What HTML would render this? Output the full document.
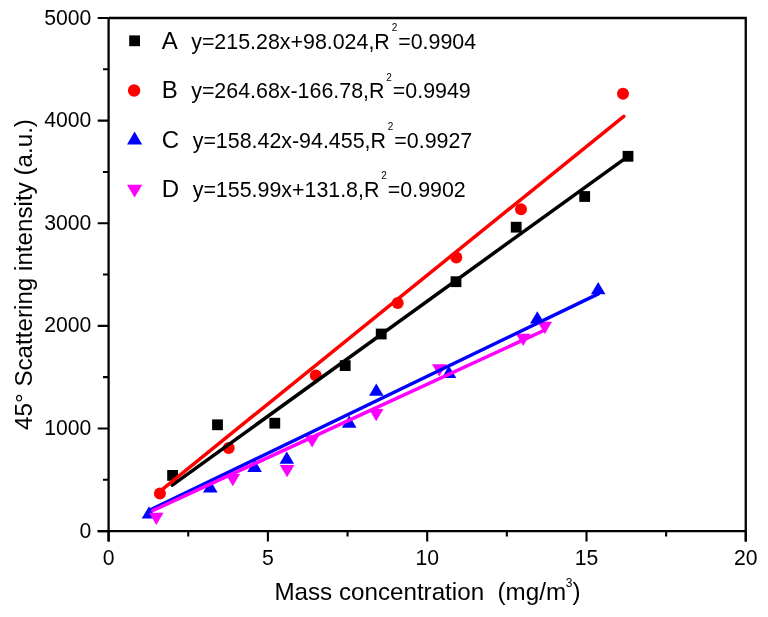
<!DOCTYPE html><html><head><meta charset="utf-8"><style>html,body{margin:0;padding:0;background:#fff;}svg{display:block;will-change:transform;}text{font-family:"Liberation Sans",sans-serif;fill:#000;}</style></head><body>
<svg width="768" height="617" viewBox="0 0 768 617">
<rect width="768" height="617" fill="#fff"/>
<rect x="167.20" y="470.00" width="10.8" height="10.8" fill="#000"/><rect x="212.10" y="419.40" width="10.8" height="10.8" fill="#000"/><rect x="269.40" y="417.80" width="10.8" height="10.8" fill="#000"/><rect x="339.80" y="360.20" width="10.8" height="10.8" fill="#000"/><rect x="375.80" y="328.60" width="10.8" height="10.8" fill="#000"/><rect x="450.60" y="276.30" width="10.8" height="10.8" fill="#000"/><rect x="510.80" y="221.80" width="10.8" height="10.8" fill="#000"/><rect x="579.30" y="191.10" width="10.8" height="10.8" fill="#000"/><rect x="622.60" y="150.90" width="10.8" height="10.8" fill="#000"/><circle cx="159.9" cy="493.5" r="6.0" fill="#f00"/><circle cx="228.7" cy="448.0" r="6.0" fill="#f00"/><circle cx="315.8" cy="375.4" r="6.0" fill="#f00"/><circle cx="397.7" cy="303.0" r="6.0" fill="#f00"/><circle cx="456.3" cy="257.5" r="6.0" fill="#f00"/><circle cx="521.0" cy="209.2" r="6.0" fill="#f00"/><circle cx="623.0" cy="93.8" r="6.0" fill="#f00"/><path d="M149.00 506.30L156.30 518.60L141.70 518.60Z" fill="#00f"/><path d="M210.30 480.20L217.60 492.50L203.00 492.50Z" fill="#00f"/><path d="M254.60 459.60L261.90 471.90L247.30 471.90Z" fill="#00f"/><path d="M286.80 451.50L294.10 463.80L279.50 463.80Z" fill="#00f"/><path d="M349.20 415.40L356.50 427.70L341.90 427.70Z" fill="#00f"/><path d="M376.30 383.50L383.60 395.80L369.00 395.80Z" fill="#00f"/><path d="M449.00 365.70L456.30 378.00L441.70 378.00Z" fill="#00f"/><path d="M537.30 311.20L544.60 323.50L530.00 323.50Z" fill="#00f"/><path d="M598.20 281.90L605.50 294.20L590.90 294.20Z" fill="#00f"/><path d="M149.00 512.80L163.60 512.80L156.30 525.10Z" fill="#f0f"/><path d="M225.50 474.00L240.10 474.00L232.80 486.30Z" fill="#f0f"/><path d="M279.80 465.00L294.40 465.00L287.10 477.30Z" fill="#f0f"/><path d="M304.80 435.30L319.40 435.30L312.10 447.60Z" fill="#f0f"/><path d="M368.90 409.00L383.50 409.00L376.20 421.30Z" fill="#f0f"/><path d="M432.00 364.30L446.60 364.30L439.30 376.60Z" fill="#f0f"/><path d="M515.90 333.80L530.50 333.80L523.20 346.10Z" fill="#f0f"/><path d="M537.50 321.80L552.10 321.80L544.80 334.10Z" fill="#f0f"/>
<line x1="172.3" y1="485.2" x2="628.0" y2="156.3" stroke="#000000" stroke-width="3.5" stroke-linecap="round"/>
<line x1="159.9" y1="491.3" x2="623.8" y2="116.3" stroke="#ff0000" stroke-width="3.5" stroke-linecap="round"/>
<line x1="151.0" y1="509.5" x2="598.3" y2="293.8" stroke="#0000ff" stroke-width="3.5" stroke-linecap="round"/>
<line x1="152.9" y1="510.5" x2="545.0" y2="330.0" stroke="#ff00ff" stroke-width="3.5" stroke-linecap="round"/>
<g stroke="#000" fill="none">
<path d="M108.6 18.0H745.75V541.5M108.6 18.0V541.5M97.7 531.1H745.75" stroke-width="2.3"/>
<path d="M97.7 531.10H108.6M97.7 428.48H108.6M97.7 325.86H108.6M97.7 223.24H108.6M97.7 120.62H108.6M97.7 18.00H108.6M103 479.79H108.6M103 377.17H108.6M103 274.55H108.6M103 171.93H108.6M103 69.31H108.6M108.60 531.1V541.5M267.90 531.1V541.5M427.20 531.1V541.5M586.50 531.1V541.5M745.80 531.1V541.5M188.25 531.1V536.5M347.55 531.1V536.5M506.85 531.1V536.5M666.15 531.1V536.5" stroke-width="2.1"/>
</g>
<text x="91.3" y="537.70" font-size="21.2" text-anchor="end">0</text>
<text x="91.3" y="435.08" font-size="21.2" text-anchor="end">1000</text>
<text x="91.3" y="332.46" font-size="21.2" text-anchor="end">2000</text>
<text x="91.3" y="229.84" font-size="21.2" text-anchor="end">3000</text>
<text x="91.3" y="127.22" font-size="21.2" text-anchor="end">4000</text>
<text x="91.3" y="24.60" font-size="21.2" text-anchor="end">5000</text>
<text x="108.60" y="564.6" font-size="21.2" text-anchor="middle">0</text>
<text x="267.90" y="564.6" font-size="21.2" text-anchor="middle">5</text>
<text x="427.20" y="564.6" font-size="21.2" text-anchor="middle">10</text>
<text x="586.50" y="564.6" font-size="21.2" text-anchor="middle">15</text>
<text x="745.80" y="564.6" font-size="21.2" text-anchor="middle">20</text>
<text x="274.4" y="599.7" font-size="24.2" xml:space="preserve">Mass concentration  (mg/m<tspan font-size="12" dx="-0.3" dy="-13.2">3</tspan><tspan dy="13.2">)</tspan></text>
<text transform="translate(32 274.5) rotate(-90)" font-size="24.2" text-anchor="middle">45° Scattering intensity (a.u.)</text>
<text x="161.8" y="48.8" font-size="24">A</text>
<text x="191.2" y="48.8" font-size="21.4" xml:space="preserve">y=215.28x+98.024,R<tspan font-size="10" dx="1.8" dy="-17.8">2</tspan><tspan dx="1" dy="17.8">=0.9904</tspan></text>
<text x="161.8" y="98.3" font-size="24">B</text>
<text x="191.2" y="98.3" font-size="21.4" xml:space="preserve">y=264.68x-166.78,R<tspan font-size="10" dx="1.8" dy="-17.8">2</tspan><tspan dx="1" dy="17.8">=0.9949</tspan></text>
<text x="161.8" y="147.6" font-size="24">C</text>
<text x="192.7" y="147.6" font-size="21.4" xml:space="preserve">y=158.42x-94.455,R<tspan font-size="10" dx="1.8" dy="-17.8">2</tspan><tspan dx="1" dy="17.8">=0.9927</tspan></text>
<text x="161.8" y="196.8" font-size="24">D</text>
<text x="192.7" y="196.8" font-size="21.4" xml:space="preserve">y=155.99x+131.8,R<tspan font-size="10" dx="1.8" dy="-17.8">2</tspan><tspan dx="1" dy="17.8">=0.9902</tspan></text>
<rect x="129.2" y="35.4" width="10.8" height="10.8" fill="#000"/>
<circle cx="134.1" cy="90.5" r="6.2" fill="#f00"/>
<path d="M134.6 131.4L142.2 144.5L127 144.5Z" fill="#00f"/>
<path d="M127 184.8L142.2 184.8L134.6 197.5Z" fill="#f0f"/>
</svg></body></html>
